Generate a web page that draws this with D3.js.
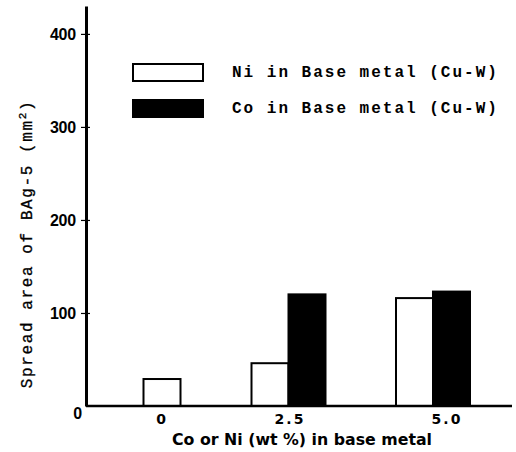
<!DOCTYPE html>
<html>
<head>
<meta charset="utf-8">
<script src="https://cdn.jsdelivr.net/npm/d3@7/dist/d3.min.js"></script>
<style>
  html, body { margin: 0; padding: 0; background: #fff; }
  svg { display: block; }
</style>
</head>
<body>
<svg id="chart" width="516" height="452"></svg>
<script>
// ---- data ----
const categories = ["0", "2.5", "5.0"];
const niValues = [29, 46, 116];
const coValues = [null, 120, 123];
const seriesNames = ["Ni in Base metal (Cu-W)", "Co in Base metal (Cu-W)"];
const yTicks = [0, 100, 200, 300, 400];
const yLabel = "Spread area of BAg-5 (mm";
const xLabel = "Co or Ni (wt %) in base metal";

// ---- layout ----
const svg = d3.select("#chart");
const axisX = 86, baseY = 406, topY = 6;
const barW = 37;

const y = d3.scaleLinear().domain([0, 430]).range([baseY, topY]);
const xGroup = d3.scaleOrdinal().domain(categories).range([162, 288.5, 433]);
const xLabelPos = d3.scaleOrdinal().domain(categories).range([162, 290, 447]);

const series = [
  { key: "Ni", name: seriesNames[0], values: niValues, fill: "#fff" },
  { key: "Co", name: seriesNames[1], values: coValues, fill: "#000" }
];

// bars
categories.forEach((c, i) => {
  const present = series.filter(s => s.values[i] != null);
  const inner = d3.scaleBand().domain(present.map(s => s.key))
    .range([-barW * present.length / 2, barW * present.length / 2]).padding(0);
  svg.append("g").selectAll("rect").data(present).join("rect")
    .attr("x", s => xGroup(c) + inner(s.key))
    .attr("y", s => y(s.values[i]))
    .attr("width", inner.bandwidth())
    .attr("height", s => y(0) - y(s.values[i]))
    .attr("fill", s => s.fill)
    .attr("stroke", "#000")
    .attr("stroke-width", 2);
});

// baseline
svg.append("line")
  .attr("x1", axisX).attr("x2", 512)
  .attr("y1", y(0)).attr("y2", y(0))
  .attr("stroke", "#000").attr("stroke-width", 2.5);

// y axis
const yAxis = svg.append("g").attr("transform", `translate(${axisX},0)`)
  .call(d3.axisLeft(y).tickValues(yTicks).tickSizeInner(5).tickSizeOuter(0).tickPadding(5));
yAxis.select(".domain").attr("stroke", "#000").attr("stroke-width", 3);
yAxis.selectAll(".tick line").attr("x1", 4).attr("x2", -5).attr("stroke-width", 1.2)
  .filter(d => d === 0).remove();
yAxis.selectAll(".tick text")
  .attr("font-family", "'Liberation Sans', Arial, sans-serif")
  .attr("font-size", 16)
  .attr("font-weight", "bold")
  .attr("letter-spacing", -0.2)
  .attr("fill", "#000");
yAxis.selectAll(".tick").filter(d => d === 0).select("text")
  .attr("x", -4).attr("dy", "0.8em");

// x tick labels
svg.append("g").selectAll("text").data(categories).join("text")
  .attr("x", d => xLabelPos(d))
  .attr("y", 424)
  .attr("text-anchor", "middle")
  .attr("font-family", "'DejaVu Sans', sans-serif")
  .attr("font-size", 14)
  .attr("font-weight", "bold")
  .attr("letter-spacing", 2)
  .attr("fill", "#000")
  .text(d => d);

// x axis title
svg.append("text")
  .attr("x", 302).attr("y", 445)
  .attr("text-anchor", "middle")
  .attr("font-family", "'DejaVu Sans', sans-serif")
  .attr("font-size", 15)
  .attr("font-weight", "bold")
  .attr("textLength", 260)
  .attr("lengthAdjust", "spacingAndGlyphs")
  .attr("fill", "#000")
  .text(xLabel);

// y axis title
const yt = svg.append("text")
  .attr("transform", "translate(32,244) rotate(-90)")
  .attr("text-anchor", "middle")
  .attr("font-family", "'Liberation Mono', 'Courier New', monospace")
  .attr("font-size", 16)
  .attr("letter-spacing", 1.6)
  .attr("stroke", "#000")
  .attr("stroke-width", 0.3)
  .attr("fill", "#000");
yt.append("tspan").text(yLabel);
yt.append("tspan").attr("dy", -6).attr("font-size", 11).text("2");
yt.append("tspan").attr("dy", 6).text(")");

// legend
const legend = svg.append("g").selectAll("g").data(series).join("g")
  .attr("transform", (d, i) => `translate(133,${64 + i * 36})`);
legend.append("rect")
  .attr("width", 70).attr("height", 17)
  .attr("fill", d => d.fill).attr("stroke", "#000").attr("stroke-width", 2);
legend.append("text")
  .attr("x", 99).attr("y", 13)
  .attr("font-family", "'Liberation Mono', 'Courier New', monospace")
  .attr("font-weight", "bold")
  .attr("font-size", 16)
  .attr("letter-spacing", 2)
  .attr("fill", "#000")
  .text(d => d.name);
</script>
</body>
</html>
